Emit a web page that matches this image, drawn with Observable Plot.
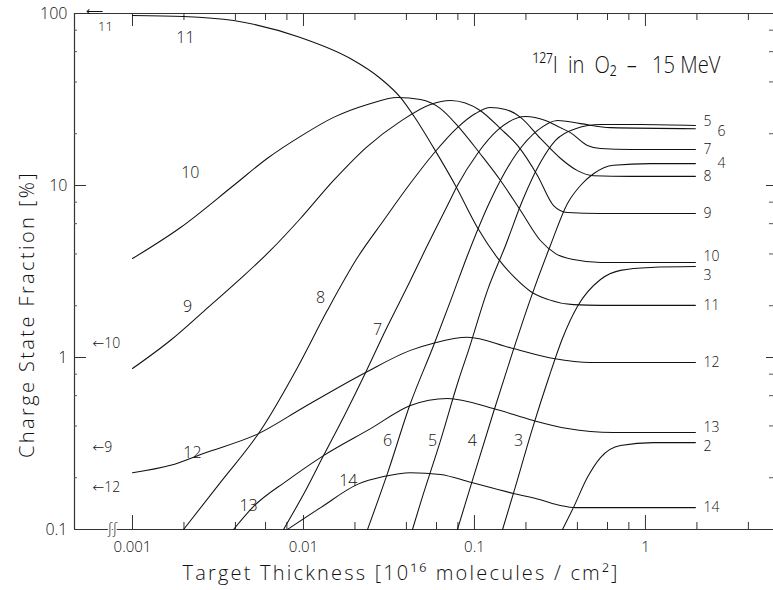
<!DOCTYPE html>
<html><head><meta charset="utf-8">
<script src="https://cdn.jsdelivr.net/npm/d3@7"></script>
<script src="https://cdn.jsdelivr.net/npm/@observablehq/plot@0.6"></script>
<style>
body{margin:0;background:#fff;}
#chart svg{display:block;}
</style></head><body><div id="chart"></div>
<script>
// charge state fractions [%] vs target thickness [1e16 molecules/cm^2]
const q2  = [[0.327,0.1],[0.379,0.134],[0.458,0.201],[0.546,0.262],[0.714,0.308],[1.114,0.320],[1.96,0.320]];
const q3  = [[0.146,0.1],[0.169,0.162],[0.221,0.402],[0.271,0.755],[0.327,1.29],[0.400,1.98],[0.546,2.84],[0.714,3.21],[1.07,3.34],[1.96,3.38]];
const q4  = [[0.0795,0.1],[0.0973,0.193],[0.129,0.479],[0.167,1.07],[0.213,2.20],[0.278,4.48],[0.350,7.86],[0.417,10.0],[0.497,11.7],[0.650,13.1],[1.07,13.4],[1.96,13.4]];
const q5  = [[0.0434,0.1],[0.0483,0.142],[0.0633,0.329],[0.0806,0.735],[0.0923,1.10],[0.119,2.45],[0.152,4.48],[0.191,8.18],[0.243,13.6],[0.298,18.3],[0.390,21.4],[0.546,22.6],[0.935,22.6],[1.96,22.3]];
const q6  = [[0.0237,0.1],[0.0310,0.212],[0.0422,0.540],[0.0576,1.17],[0.0744,2.29],[0.0910,3.92],[0.124,8.18],[0.1785,15.6],[0.234,20.9],[0.306,23.9],[0.417,22.9],[0.624,21.7],[1.96,21.4]];
const q7  = [[0.00764,0.1],[0.01027,0.168],[0.0131,0.269],[0.0176,0.473],[0.0231,0.818],[0.0302,1.44],[0.0422,2.80],[0.0503,4.02],[0.0695,7.65],[0.0795,10.0],[0.104,15.3],[0.136,20.9],[0.199,25.2],[0.260,23.9],[0.318,21.7],[0.364,20.3],[0.458,17.1],[0.546,16.4],[0.817,16.2],[1.96,16.2]];
const q8  = [[0.00199,0.1],[0.00327,0.188],[0.00561,0.376],[0.00923,0.875],[0.0138,1.88],[0.0207,3.81],[0.0294,6.26],[0.0422,10.3],[0.0576,15.3],[0.0795,21.7],[0.1013,26.2],[0.124,28.4],[0.152,27.7],[0.186,24.9],[0.243,18.8],[0.318,14.4],[0.400,12.2],[0.497,11.4],[0.817,11.3],[1.96,11.3]];
const q9  = [[0.001,0.863],[0.00167,1.26],[0.0026,1.85],[0.00411,2.77],[0.00641,4.19],[0.0096,6.43],[0.0150,10.7],[0.0237,16.9],[0.0369,23.6],[0.0553,29.6],[0.0724,31.2],[0.108,27.3],[0.142,21.4],[0.1785,17.1],[0.234,11.4],[0.290,7.65],[0.350,6.97],[0.546,6.87],[1.96,6.87]];
const q10 = [[0.001,3.76],[0.00191,5.70],[0.0039,10.0],[0.00616,14.4],[0.0096,19.3],[0.0150,24.9],[0.0237,29.6],[0.0355,32.5],[0.0483,31.6],[0.0633,28.0],[0.0795,22.3],[0.108,15.3],[0.142,10.7],[0.186,7.16],[0.243,4.79],[0.298,4.02],[0.379,3.71],[0.546,3.57],[1.96,3.57]];
const q11 = [[0.001,97.4],[0.00199,96.1],[0.0039,91.0],[0.0096,72.5],[0.0188,54.7],[0.0282,41.9],[0.0369,32.5],[0.0452,24.5],[0.0576,16.6],[0.0774,10.0],[0.104,5.70],[0.136,3.81],[0.174,2.88],[0.213,2.42],[0.271,2.17],[0.379,2.03],[0.546,2.01],[1.96,2.01]];
const q12 = [[0.001,0.214],[0.00167,0.236],[0.0026,0.277],[0.00546,0.361],[0.01,0.512],[0.0231,0.818],[0.0422,1.10],[0.0576,1.21],[0.0910,1.31],[0.162,1.14],[0.290,0.987],[0.477,0.935],[1.96,0.935]];
const q13 = [[0.0039,0.1],[0.0051,0.136],[0.00806,0.193],[0.0131,0.269],[0.0247,0.386],[0.0422,0.526],[0.0695,0.578],[0.129,0.505],[0.221,0.430],[0.350,0.386],[0.650,0.366],[1.96,0.366]];
const q14 = [[0.00806,0.1],[0.0126,0.134],[0.0207,0.183],[0.0294,0.203],[0.0422,0.214],[0.0633,0.209],[0.0948,0.188],[0.169,0.162],[0.243,0.149],[0.318,0.138],[0.390,0.134],[1.96,0.134]];

// fractions at zero thickness (left of the axis break)
const zeroState = [{q:"11", f:97}, {q:"10", f:1.2}, {q:"9", f:0.30}, {q:"12", f:0.175}];
const zeroPos = 0.000477;      // where "thickness 0" sits on the broken log axis
const endThickness = 1.96;

// in-plot curve labels
const curveLabels = [
  {t:"11", x:0.00204, y:72.5}, {t:"10", x:0.00218, y:11.9}, {t:"9", x:0.0021, y:1.98},
  {t:"8", x:0.0126, y:2.23}, {t:"7", x:0.0271, y:1.44}, {t:"6", x:0.031, y:0.329},
  {t:"5", x:0.0568, y:0.329}, {t:"4", x:0.0973, y:0.329}, {t:"3", x:0.181, y:0.329},
  {t:"12", x:0.00224, y:0.280}, {t:"13", x:0.00477, y:0.138}, {t:"14", x:0.0183, y:0.193}
];
const rightNear = [
  {t:"5", y:23.6}, {t:"7", y:16.2}, {t:"8", y:11.3}, {t:"9", y:6.87}, {t:"10", y:3.86},
  {t:"3", y:3.00}, {t:"11", y:2.01}, {t:"12", y:0.935}, {t:"13", y:0.392}, {t:"2", y:0.304}, {t:"14", y:0.134}
];
const rightFar = [{t:"6", y:20.6}, {t:"4", y:13.4}];

// axes
const xDomain = [0.000458, 5.61];
const yDomain = [0.1, 100];
const xTickValues = [zeroPos, 0.001, 0.01, 0.1, 1];
const xTickLabels = ["0", "0.001", "0.01", "0.1", "1"];
const xMajor = [0.001, 0.01, 0.1, 1];
const xMinor = [0.002,0.004,0.006,0.008, 0.02,0.04,0.06,0.08, 0.2,0.4,0.6,0.8, 2,4];
const yTickValues = [0.1, 1, 10, 100];
const yTickLabels = ["0.1", "1", "10", "100"];
const yMajor = [1, 10];
const yMinor = [0.2,0.4,0.6,0.8, 2,4,6,8, 20,40,60,80];

const series = [[2,q2],[3,q3],[4,q4],[5,q5],[6,q6],[7,q7],[8,q8],[9,q9],[10,q10],[11,q11],[12,q12],[13,q13],[14,q14]];
const rows = series.flatMap(([q, pts]) => pts.map(([x, y]) => ({q, x, y})));

const W = 773, H = 590, mL = 74, mR = 0, mT = 13, mB = 61;
const FW = W - mL - mR, FH = H - mT - mB;
const ink = "#111";
const axisInk = "#333";
const font = "'Open Sans', 'DejaVu Sans', sans-serif";

const plot = Plot.plot({
  width: W, height: H,
  marginLeft: mL, marginRight: mR, marginTop: mT, marginBottom: mB,
  style: {fontFamily: font, fontWeight: 300, color: ink, background: "#fff"},
  x: {type: "log", domain: xDomain},
  y: {type: "log", domain: yDomain},
  marks: [
    // axis lines (top, bottom, left)
    Plot.ruleY(yDomain, {stroke: axisInk, strokeWidth: 1}),
    Plot.ruleX([xDomain[0]], {stroke: axisInk, strokeWidth: 1.2}),
    // inward ticks
    Plot.ruleX(xMajor, {insetTop: FH - 14, stroke: axisInk}),
    Plot.ruleX(xMinor, {insetTop: FH - 7, stroke: axisInk}),
    Plot.ruleX(xMajor, {insetBottom: FH - 13, stroke: axisInk}),
    Plot.ruleX(xMinor, {insetBottom: FH - 7, stroke: axisInk}),
    Plot.ruleY(yMajor, {insetRight: FW - 12, stroke: axisInk}),
    Plot.ruleY(yMinor, {insetRight: FW - 3, stroke: "#555"}),
    Plot.ruleY(yMajor, {insetLeft: FW - 7, stroke: axisInk}),
    Plot.ruleY(yMinor, {insetLeft: FW - 4, stroke: "#555"}),
    Plot.axisX({ticks: xTickValues, tickSize: 0, tickPadding: 12, label: null,
      tickFormat: d => xTickLabels[xTickValues.indexOf(d)], fontSize: 15, fill: ink}),
    Plot.axisY({ticks: yTickValues, tickSize: 0, tickPadding: 7, label: null,
      tickFormat: d => yTickLabels[yTickValues.indexOf(d)], fontSize: 16, fill: ink}),
    // curves
    Plot.line(rows, {x: "x", y: "y", z: "q", curve: "monotone-x", stroke: ink, strokeWidth: 1.05}),
    // labels
    Plot.text(curveLabels, {x: "x", y: "y", text: "t", fontSize: 16, fill: ink}),
    Plot.text(rightNear, {x: () => endThickness, y: "y", text: "t", textAnchor: "start", dx: 8, fontSize: 14, fill: ink}),
    Plot.text(rightFar, {x: () => endThickness, y: "y", text: "t", textAnchor: "start", dx: 22, fontSize: 14, fill: ink}),
    // zero-thickness values
    Plot.text(zeroState.filter(d => d.q !== "11"), {x: () => zeroPos, y: "f", text: d => "\u2190" + d.q, textAnchor: "start", dx: 15, fontSize: 14, fill: ink}),
    Plot.text(zeroState.filter(d => d.q === "11"), {x: () => zeroPos, y: "f", text: () => "\u27F5", textAnchor: "start", dx: 8, dy: -5, fontSize: 12, fill: ink}),
    Plot.text(zeroState.filter(d => d.q === "11"), {x: () => zeroPos, y: "f", text: "q", dx: 28, dy: 11, fontSize: 13, fill: ink}),
    Plot.text(["\u0283\u0283"], {x: () => zeroPos, y: () => 0.1, dx: 35, fontSize: 15, fill: ink, stroke: "#fff", strokeWidth: 3, paintOrder: "stroke"}),
    // title
    Plot.text(["\u00B9\u00B2\u2077I\u2002in\u2002O\u2082\u2002\u2013\u2002 15 MeV"], {frameAnchor: "top-left", dx: 458, dy: 52, textAnchor: "start", lineAnchor: "middle", fontSize: 24, fill: ink}),
    // axis titles
    Plot.text(["Target Thickness [10\u00B9\u2076 molecules / cm\u00B2]"], {frameAnchor: "bottom", dx: -23, dy: 44, textAnchor: "middle", lineAnchor: "middle", fontSize: 20, fill: ink}),
    Plot.text(["Charge State Fraction [%]"], {frameAnchor: "left", dx: -47, dy: 43, rotate: -90, textAnchor: "middle", lineAnchor: "middle", fontSize: 20, fill: ink})
  ]
});
document.getElementById("chart").appendChild(plot);

const texts = d3.select(plot).selectAll("text");
texts.filter(function(){ return this.textContent.startsWith("Charge"); }).attr("letter-spacing", "2.4px");
texts.filter(function(){ return this.textContent.startsWith("Target"); }).attr("letter-spacing", "2.2px");
// the reference title lettering is condensed: squeeze it to its width (~188px)
texts.filter(function(){ return this.textContent.includes("MeV"); }).each(function(){
  const len = this.getComputedTextLength();
  const s = Math.min(1, 188 / len);
  const tr = this.getAttribute("transform") || "";
  const x = +this.getAttribute("x") || 0, y = +this.getAttribute("y") || 0;
  this.setAttribute("transform", `${tr} translate(${x},${y}) scale(${s},1) translate(${-x},${-y})`);
});
</script>
</body></html>
